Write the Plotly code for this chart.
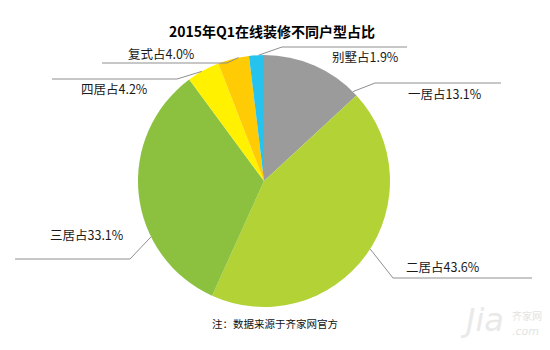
import math
import plotly.graph_objects as go

# Share of online renovation orders by home type, 2015 Q1
categories = ["一居", "二居", "三居", "四居", "复式", "别墅"]
shares = [13.1, 43.6, 33.1, 4.2, 4.0, 1.9]
colors = ["#9b9b9b", "#b2d235", "#8cc03f", "#fff100", "#ffcb05", "#27c3ef"]

title_text = "2015年Q1在线装修不同户型占比"
note_text = "注：数据来源于齐家网官方"

W, H = 550, 350
CX, CY, R = 264, 181, 126  # pie centre and radius in pixels

# Label layout per slice: where on the slice arc the leader starts (0..1 of the slice),
# elbow point, end of the horizontal run, label anchor
label_layout = {
    "一居": dict(frac=0.95, elbow=(375, 83), end=(501, 83), text=(445, 93)),
    "二居": dict(frac=0.48, elbow=(393, 278), end=(532, 278), text=(443, 266)),
    "三居": dict(frac=0.33, elbow=(130, 259), end=(15, 259), text=(87, 235)),
    "四居": dict(frac=0.45, elbow=(177, 79), end=(52, 79), text=(114, 88)),
    "复式": dict(frac=0.67, elbow=(227, 63), end=(102, 63), text=(161, 54)),
    "别墅": dict(frac=0.65, elbow=(282, 47), end=(407, 47), text=(365, 57)),
}


def px_x(x):
    return x / W


def px_y(y):
    return 1 - y / H


fig = go.Figure(
    go.Pie(
        labels=categories,
        values=shares,
        sort=False,
        direction="clockwise",
        rotation=0,
        marker=dict(colors=colors, line=dict(width=0)),
        textinfo="none",
        hoverinfo="label+value",
        domain=dict(x=[px_x(CX - R), px_x(CX + R)], y=[px_y(CY + R), px_y(CY - R)]),
    )
)

total = sum(shares)
shapes = []
annotations = []
start = 0.0
for name, val in zip(categories, shares):
    lay = label_layout[name]
    ang = (start + val * lay["frac"]) / total * 2 * math.pi
    start += val
    sx = CX + R * math.sin(ang)
    sy = CY - R * math.cos(ang)
    ex, ey = lay["elbow"]
    fx, fy = lay["end"]
    path = f"M {px_x(sx)},{px_y(sy)} L {px_x(ex)},{px_y(ey)} L {px_x(fx)},{px_y(fy)}"
    shapes.append(dict(type="path", xref="paper", yref="paper", path=path,
                       line=dict(color="#8f8f8f", width=1)))
    tx, ty = lay["text"]
    annotations.append(dict(x=px_x(tx), y=px_y(ty), xref="paper", yref="paper",
                            text=f"{name}占{val:.1f}%", showarrow=False,
                            xanchor="center", yanchor="middle",
                            font=dict(size=12.5, color="#1a1a1a",
                                      family="Noto Sans CJK SC")))

annotations.append(dict(x=px_x(272), y=px_y(31), xref="paper", yref="paper",
                        text=f"<b>{title_text}</b>", showarrow=False,
                        xanchor="center", yanchor="middle",
                        font=dict(size=14, color="#000000", family="Noto Sans CJK SC")))
annotations.append(dict(x=px_x(275), y=px_y(323), xref="paper", yref="paper",
                        text=note_text, showarrow=False,
                        xanchor="center", yanchor="middle",
                        font=dict(size=10.5, color="#111111", family="Noto Sans CJK SC")))

# faint site watermark in the corner
annotations.append(dict(x=px_x(506), y=px_y(320), xref="paper", yref="paper",
                        text="<i>Jia</i>", showarrow=False,
                        xanchor="right", yanchor="middle",
                        font=dict(size=32, color="#e9e9e9", family="DejaVu Sans")))
annotations.append(dict(x=px_x(510), y=px_y(315), xref="paper", yref="paper",
                        text="齐家网", showarrow=False,
                        xanchor="left", yanchor="middle",
                        font=dict(size=10, color="#e3e3e3", family="Noto Sans CJK SC")))
annotations.append(dict(x=px_x(510), y=px_y(331), xref="paper", yref="paper",
                        text="<i>.com</i>", showarrow=False,
                        xanchor="left", yanchor="middle",
                        font=dict(size=11, color="#e3e3e3", family="DejaVu Sans")))

fig.update_layout(
    width=W,
    height=H,
    margin=dict(l=0, r=0, t=0, b=0),
    paper_bgcolor="white",
    plot_bgcolor="white",
    showlegend=False,
    shapes=shapes,
    annotations=annotations,
)

fig.write_html("out.html")
